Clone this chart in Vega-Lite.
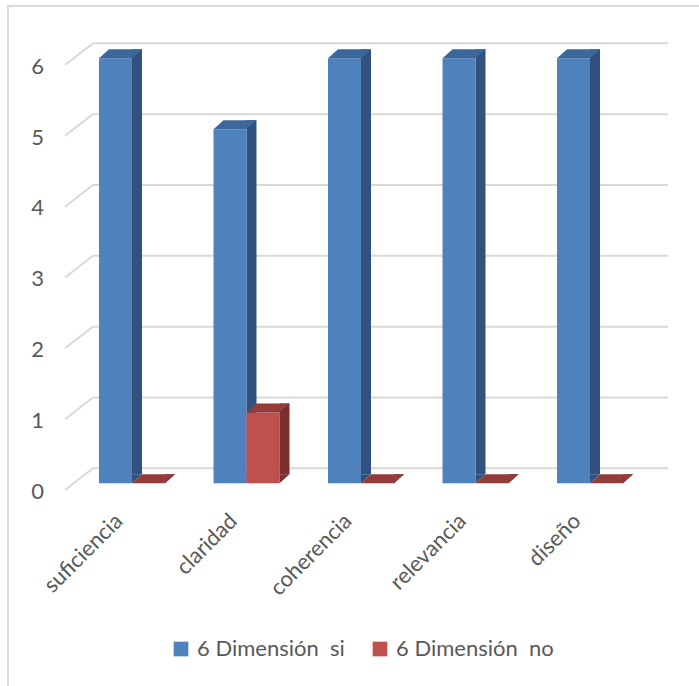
{
  "$schema": "https://vega.github.io/schema/vega-lite/v6.json",
  "width": 691,
  "height": 680,
  "autosize": "none",
  "padding": {"left": 8, "top": 6, "right": 0, "bottom": 0},
  "background": "#ffffff",
  "config": {
    "font": "Lato",
    "view": {"stroke": "#d9d9d9", "strokeWidth": 2, "strokeDash": [691, 1371, 680]},
    "axis": {"labelFont": "Lato", "labelFontSize": 22, "labelColor": "#595959", "domain": false, "ticks": false, "grid": false},
    "axisX": {"labelAngle": -45, "labelPadding": 2, "offset": -178, "labelOffset": -20},
    "axisY": {"tickCount": 6, "offset": -40, "labelPadding": 4.5, "labelOffset": 8},
    "legend": {"labelFont": "Lato", "labelFontSize": 22, "labelColor": "#595959"}
  },
  "datasets": {
    "valores": [
      {"categoria": "suficiencia", "serie": "6 Dimensión\u00a0 si", "valor": 6},
      {"categoria": "claridad", "serie": "6 Dimensión\u00a0 si", "valor": 5},
      {"categoria": "coherencia", "serie": "6 Dimensión\u00a0 si", "valor": 6},
      {"categoria": "relevancia", "serie": "6 Dimensión\u00a0 si", "valor": 6},
      {"categoria": "diseño", "serie": "6 Dimensión\u00a0 si", "valor": 6},
      {"categoria": "suficiencia", "serie": "6 Dimensión\u00a0 no", "valor": 0},
      {"categoria": "claridad", "serie": "6 Dimensión\u00a0 no", "valor": 1},
      {"categoria": "coherencia", "serie": "6 Dimensión\u00a0 no", "valor": 0},
      {"categoria": "relevancia", "serie": "6 Dimensión\u00a0 no", "valor": 0},
      {"categoria": "diseño", "serie": "6 Dimensión\u00a0 no", "valor": 0}
    ],
    "niveles": [{"v": 0}, {"v": 1}, {"v": 2}, {"v": 3}, {"v": 4}, {"v": 5}, {"v": 6}]
  },
  "layer": [
    {
      "data": {"name": "niveles"},
      "mark": {"type": "rule", "color": "#d9d9d9", "strokeWidth": 2, "xOffset": -39, "x2Offset": 78, "yOffset": -15},
      "encoding": {
        "x": {
          "datum": "suficiencia", "type": "nominal", "title": null,
          "scale": {"domain": ["suficiencia", "claridad", "coherencia", "relevancia", "diseño"], "range": [91, 615], "paddingInner": 0.4236, "paddingOuter": 0}
        },
        "x2": {"datum": "diseño"},
        "y": {"field": "v", "type": "quantitative", "title": null, "scale": {"domain": [0, 6], "range": [477.3, 52.3], "nice": false}}
      }
    },
    {
      "data": {"name": "niveles"},
      "mark": {"type": "rule", "color": "#d9d9d9", "strokeWidth": 2, "xOffset": -67, "x2Offset": -39, "yOffset": 6.7, "y2Offset": -15},
      "encoding": {
        "x": {"datum": "suficiencia", "type": "nominal", "title": null},
        "x2": {"datum": "suficiencia"},
        "y": {"field": "v", "type": "quantitative", "title": null},
        "y2": {"field": "v"}
      }
    },
    {
      "data": {"name": "valores"},
      "transform": [{"filter": "datum.serie === '6 Dimensión\u00a0 si'"}],
      "layer": [
        {
          "mark": {"type": "bar", "width": 10, "xOffset": 5, "yOffset": -9, "y2Offset": -9, "color": "#31527f"},
          "encoding": {
            "x": {"field": "categoria", "type": "nominal", "title": null},
            "y": {"field": "valor", "type": "quantitative", "title": null, "stack": null},
            "y2": {"datum": 0}
          }
        },
        {
          "mark": {"type": "bar", "width": 33, "xOffset": -16.5},
          "encoding": {
            "x": {"field": "categoria", "type": "nominal", "title": null},
            "y": {"field": "valor", "type": "quantitative", "title": null, "stack": null},
            "color": {
              "field": "serie", "type": "nominal",
              "scale": {"domain": ["6 Dimensión\u00a0 si", "6 Dimensión\u00a0 no"], "range": ["#4f81bd", "#c0504d"]},
              "legend": {"title": null, "orient": "none", "direction": "horizontal", "legendX": 162, "legendY": 632, "symbolType": "square", "symbolSize": 215, "symbolStrokeWidth": 0, "labelOffset": 5, "columnPadding": 24, "padding": 0}
            }
          }
        },
        {
          "mark": {"type": "point", "shape": "M0,-9L0,0L10,-9Z", "size": 4, "filled": true, "opacity": 1, "color": "#31527f"},
          "encoding": {
            "x": {"field": "categoria", "type": "nominal", "title": null},
            "y": {"datum": 0, "type": "quantitative", "title": null}
          }
        },
        {
          "mark": {"type": "point", "shape": "M-33,0L0,0L10,-9L-23,-9Z", "size": 4, "filled": true, "opacity": 1, "color": "#3c679c"},
          "encoding": {
            "x": {"field": "categoria", "type": "nominal", "title": null},
            "y": {"field": "valor", "type": "quantitative", "title": null}
          }
        }
      ]
    },
    {
      "data": {"name": "valores"},
      "transform": [{"filter": "datum.serie === '6 Dimensión\u00a0 no'"}],
      "layer": [
        {
          "mark": {"type": "bar", "width": 33, "xOffset": 16.5},
          "encoding": {
            "x": {"field": "categoria", "type": "nominal", "title": null},
            "y": {"field": "valor", "type": "quantitative", "title": null, "stack": null},
            "color": {"field": "serie", "type": "nominal"}
          }
        },
        {
          "mark": {"type": "bar", "width": 10, "xOffset": 38, "yOffset": -9, "y2Offset": -9, "color": "#7a2e2d"},
          "encoding": {
            "x": {"field": "categoria", "type": "nominal", "title": null},
            "y": {"field": "valor", "type": "quantitative", "title": null, "stack": null},
            "y2": {"datum": 0}
          }
        },
        {
          "mark": {"type": "point", "shape": "M33,-9L33,0L43,-9Z", "size": 4, "filled": true, "opacity": 1, "color": "#7a2e2d"},
          "encoding": {
            "x": {"field": "categoria", "type": "nominal", "title": null},
            "y": {"datum": 0, "type": "quantitative", "title": null}
          }
        },
        {
          "mark": {"type": "point", "shape": "M0,0L33,0L43,-9L10,-9Z", "size": 4, "filled": true, "opacity": 1, "color": "#943c3a"},
          "encoding": {
            "x": {"field": "categoria", "type": "nominal", "title": null},
            "y": {"field": "valor", "type": "quantitative", "title": null}
          }
        }
      ]
    }
  ]
}
